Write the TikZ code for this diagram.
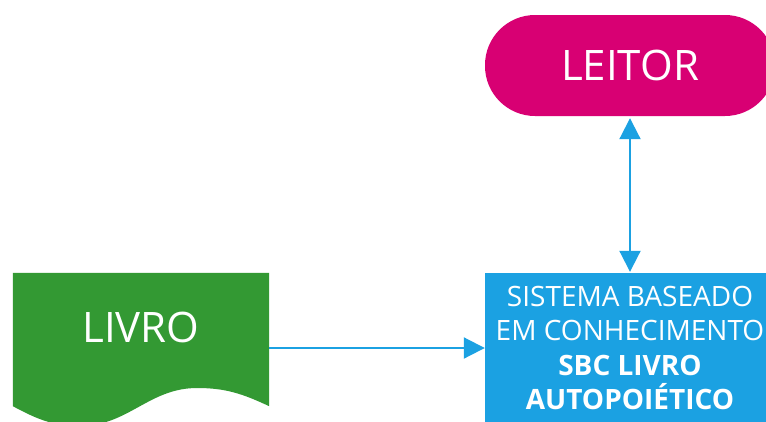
\documentclass[tikz,border=0pt]{standalone}
\usepackage{fontspec}
\setmainfont{Open Sans}
\usetikzlibrary{arrows.meta}
\definecolor{leitorpink}{RGB}{216,0,115}
\definecolor{livrogreen}{RGB}{51,153,51}
\definecolor{sbcblue}{RGB}{27,161,226}
\begin{document}
\begin{tikzpicture}[x=1pt, y=-1pt,
    pill/.style={rectangle, rounded corners=50pt, fill=leitorpink, minimum width=290pt, minimum height=101pt, inner sep=0pt},
    doc/.style={rectangle, minimum width=256pt, minimum height=133pt, inner sep=0pt},
    sbcbox/.style={rectangle, fill=sbcblue, minimum width=290pt, minimum height=170pt, inner sep=0pt},
    big label/.style={text=white, font=\fontsize{42}{50}\selectfont},
    sbc label/.style={text=white, align=center, font=\fontsize{28}{34.5}\selectfont},
    link/.style={draw=sbcblue, line width=2pt, -{Triangle[width=21pt,length=21pt]}}]

    \useasboundingbox (0,0) rectangle (766,421);
    \clip (0,0) rectangle (766,421);

    % Reader
    \node[pill] (leitor) at (630,65.5) {};
    \node[big label] (leitortext) at (630,65) {LEITOR};

    % Book (document shape)
    \node[doc] (livro) at (141,339.5) {};
    \fill[livrogreen] (livro.south west) -- (livro.north west) -- (livro.north east) -- (livro.south east)
        to[out=155, in=0] (197,388) to[out=180, in=0] (80,426) to[out=180, in=-28] cycle;
    \node[big label] (livrotext) at (141,327) {LIVRO};

    % Knowledge based system
    \node[sbcbox] (sbc) at (630,358) {};
    \node[sbc label] (sbctext) at (630,348) {SISTEMA BASEADO\\EM CONHECIMENTO\\\textbf{SBC LIVRO}\\\textbf{AUTOPOIÉTICO}};

    \draw[link] (livro.east |- sbctext) -- (sbc.west |- sbctext);
    \draw[link, {Triangle[width=21pt,length=21pt]}-{Triangle[width=21pt,length=21pt]}, shorten <=2pt, shorten >=1pt] (leitor) -- (sbc);

\end{tikzpicture}
\end{document}
